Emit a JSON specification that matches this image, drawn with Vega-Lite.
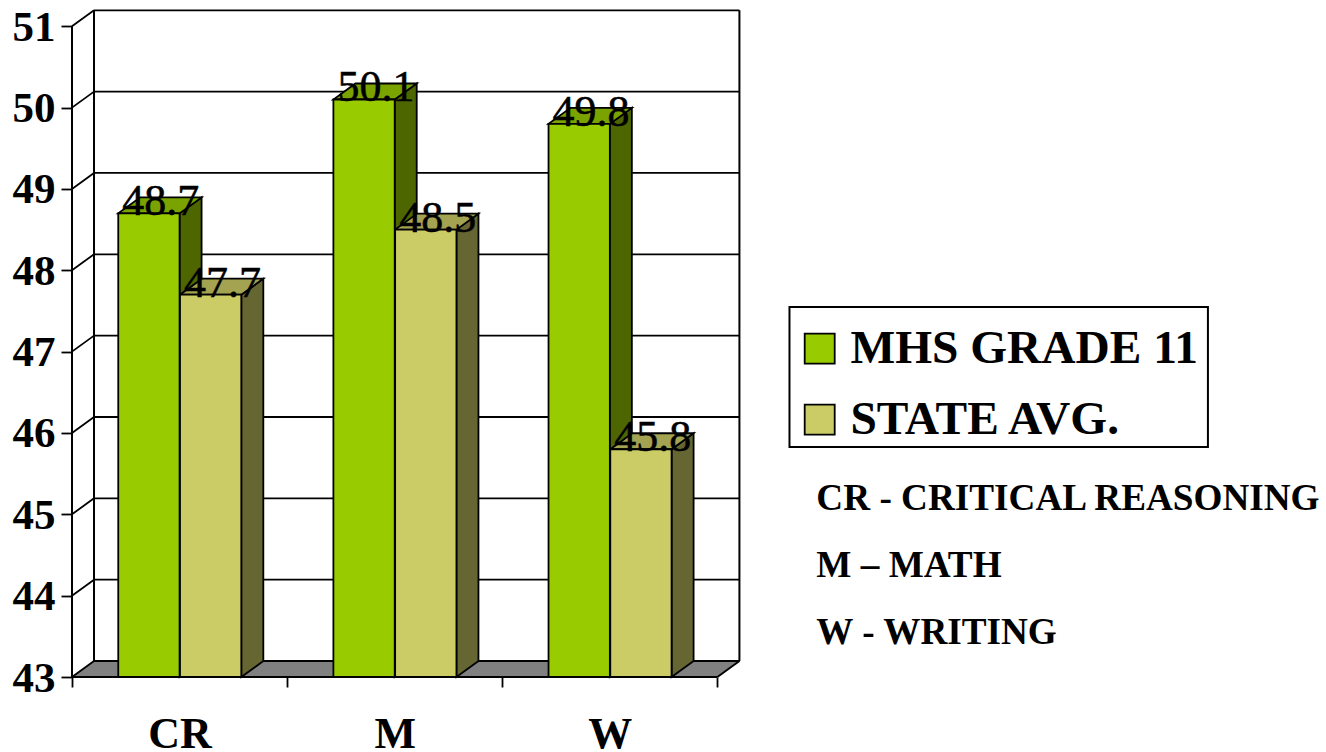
{
"$schema":"https://vega.github.io/schema/vega-lite/v6.json",
"width":668,"height":667,
"autosize":{"type":"none"},
"padding":{"left":72,"top":10,"right":586,"bottom":75},
"background":"white",
"config":{"view":{"stroke":null},"font":"Liberation Serif"},
"data":{"values":[
{"cat":"CR","series":"MHS GRADE 11","value":48.7},
{"cat":"CR","series":"STATE AVG.","value":47.7},
{"cat":"M","series":"MHS GRADE 11","value":50.1},
{"cat":"M","series":"STATE AVG.","value":48.5},
{"cat":"W","series":"MHS GRADE 11","value":49.8},
{"cat":"W","series":"STATE AVG.","value":45.8}
]},
"transform":[
{"calculate":"indexof(['CR','M','W'],datum.cat)+(datum.series=='MHS GRADE 11'?0.215:0.502)","as":"xl"},
{"calculate":"datum.xl+0.285","as":"xr"},
{"calculate":"datum.cat+datum.series","as":"key"}
],
"encoding":{
"x":{"field":"x","type":"quantitative","scale":{"domain":[0,3.105],"nice":false,"zero":false},
"axis":{"title":null,"values":[0,0.5,1,1.5,2,2.5,3],"labelExpr":"datum.value==0.5?'CR':datum.value==1.5?'M':datum.value==2.5?'W':''","tickOpacity":{"condition":{"test":"datum.value%1!=0","value":0},"value":1},"domain":false,"grid":false,"tickSize":10,"tickColor":"black","tickWidth":1.8,"labelFont":"Liberation Serif","labelFontWeight":"bold","labelFontSize":44,"labelColor":"black","labelPadding":25,"labelBound":false,"labelFlush":false,"labelOverlap":false,"labelAngle":0}},
"y":{"field":"y","type":"quantitative","scale":{"domain":[43,51.2],"nice":false,"zero":false},
"axis":{"title":null,"values":[43,44,45,46,47,48,49,50,51],"format":"d","domain":false,"grid":false,"tickSize":11,"tickColor":"black","tickWidth":1.8,"labelFont":"Liberation Serif","labelFontWeight":"bold","labelFontSize":43,"labelColor":"black","labelPadding":6,"labelOffset":1,"labelBound":false,"labelFlush":false,"labelOverlap":false}}
},
"layer":[
{"data":{"values":[{"base":43}]},
"transform":[
{"calculate":"[0,1,2,3]","as":"t"},{"flatten":["t"]},
{"calculate":"datum.t==0?0:datum.t==1?0.1023:datum.t==2?3:3.1023","as":"x"},
{"calculate":"datum.t==3?datum.base+0.1966:datum.base","as":"y"},
{"calculate":"datum.t==0?datum.base:datum.base+0.1966","as":"y2"}
],
"mark":{"type":"area","orient":"vertical","fill":"#808080","stroke":null},
"encoding":{"y2":{"field":"y2"}}},
{"data":{"values":[{"tick":43},{"tick":44},{"tick":45},{"tick":46},{"tick":47},{"tick":48},{"tick":49},{"tick":50},{"tick":51}]},
"transform":[{"calculate":"0.1023","as":"x"},{"calculate":"3.1023","as":"x2"},{"calculate":"datum.tick+0.1966","as":"y"}],
"mark":{"type":"rule","stroke":"black","strokeWidth":1.8},
"encoding":{"x2":{"field":"x2"},"strokeWidth":{"condition":{"test":"datum.tick==43||datum.tick==51","value":2.4},"value":1.8}}},
{"data":{"values":[{"tick":43},{"tick":44},{"tick":45},{"tick":46},{"tick":47},{"tick":48},{"tick":49},{"tick":50},{"tick":51}]},
"transform":[{"calculate":"0","as":"x"},{"calculate":"0.1023","as":"x2"},{"calculate":"datum.tick","as":"y"},{"calculate":"datum.tick+0.1966","as":"y2"}],
"mark":{"type":"rule","stroke":"black","strokeWidth":1.8},
"encoding":{"x2":{"field":"x2"},"y2":{"field":"y2"}}},
{"data":{"values":[{"edge":"frontLeft"},{"edge":"backLeft"},{"edge":"backRight"},{"edge":"frontBase"},{"edge":"floorRight"}]},
"transform":[
{"calculate":"{'frontLeft':0,'backLeft':0.1023,'backRight':3.1023,'frontBase':0,'floorRight':3}[datum.edge]","as":"x"},
{"calculate":"{'frontLeft':0,'backLeft':0.1023,'backRight':3.1023,'frontBase':3,'floorRight':3.1023}[datum.edge]","as":"x2"},
{"calculate":"{'frontLeft':43,'backLeft':43.1966,'backRight':43.1966,'frontBase':43,'floorRight':43}[datum.edge]","as":"y"},
{"calculate":"{'frontLeft':51,'backLeft':51.1966,'backRight':51.1966,'frontBase':43,'floorRight':43.1966}[datum.edge]","as":"y2"}
],
"mark":{"type":"rule","stroke":"black","strokeWidth":2},
"encoding":{"x2":{"field":"x2"},"y2":{"field":"y2"}}},
{"transform":[
{"calculate":"[0,1]","as":"t"},{"flatten":["t"]},
{"calculate":"datum.xr+datum.t*0.1023","as":"x"},
{"calculate":"datum.value+datum.t*0.1966","as":"y"},
{"calculate":"43+datum.t*0.1966","as":"y2"}
],
"mark":{"type":"area","orient":"vertical","stroke":"black","strokeWidth":1.8},
"encoding":{"y2":{"field":"y2"},"detail":{"field":"key"},"fill":{"condition":{"test":"datum.series=='MHS GRADE 11'","value":"#4D6600"},"value":"#666633"}}},
{"transform":[
{"calculate":"[0,1,2,3]","as":"t"},{"flatten":["t"]},
{"calculate":"datum.t==0?datum.xl:datum.t==1?datum.xl+0.1023:datum.t==2?datum.xr:datum.xr+0.1023","as":"x"},
{"calculate":"datum.t==3?datum.value+0.1966:datum.value","as":"y"},
{"calculate":"datum.t==0?datum.value:datum.value+0.1966","as":"y2"}
],
"mark":{"type":"area","orient":"vertical","stroke":"black","strokeWidth":1.8},
"encoding":{"y2":{"field":"y2"},"detail":{"field":"key"},"fill":{"condition":{"test":"datum.series=='MHS GRADE 11'","value":"#7AA300"},"value":"#A3A352"}}},
{"transform":[
{"calculate":"datum.xl","as":"x"},{"calculate":"datum.value","as":"y"},{"calculate":"43","as":"y2"}
],
"mark":{"type":"rect","stroke":"black","strokeWidth":1.8},
"encoding":{"x2":{"field":"xr"},"y2":{"field":"y2"},
"color":{"field":"series","type":"nominal","scale":{"domain":["MHS GRADE 11","STATE AVG."],"range":["#99CC00","#CCCC66"]},
"legend":{"title":null,"orient":"none","legendX":724,"legendY":315,"padding":0,"rowPadding":22,"symbolType":"square","symbolSize":900,"symbolStrokeColor":"black","symbolStrokeWidth":1.8,"symbolOpacity":1,"labelFont":"Liberation Serif","labelFontWeight":"bold","labelFontSize":47.4,"labelColor":"black","labelOffset":7,"labelLimit":500}}}},
{"transform":[
{"calculate":"(datum.xl+datum.xr)/2+0.055","as":"x"},{"calculate":"datum.value","as":"y"}
],
"mark":{"type":"text","font":"Liberation Serif","fontSize":44,"color":"black","stroke":"black","strokeWidth":0.5,"align":"center","baseline":"alphabetic","dy":2},
"encoding":{"text":{"field":"value","type":"quantitative","format":".1f"}}},
{"data":{"values":[{"note":"CR - CRITICAL REASONING","order":0},{"note":"M – MATH","order":1},{"note":"W - WRITING","order":2}]},
"transform":[{"calculate":"3.46","as":"x"},{"calculate":"45.19-datum.order*0.824","as":"y"}],
"mark":{"type":"text","font":"Liberation Serif","fontWeight":"bold","fontSize":37.2,"color":"black","align":"left","baseline":"middle"},
"encoding":{"text":{"field":"note","type":"nominal"}}},
{"data":{"values":[{"frame":"legend box"}]},
"transform":[{"calculate":"3.335","as":"x"},{"calculate":"5.28","as":"x2"},{"calculate":"47.549","as":"y"},{"calculate":"45.828","as":"y2"}],
"mark":{"type":"rect","fill":null,"stroke":"black","strokeWidth":2},
"encoding":{"x2":{"field":"x2"},"y2":{"field":"y2"}}}
]
}
